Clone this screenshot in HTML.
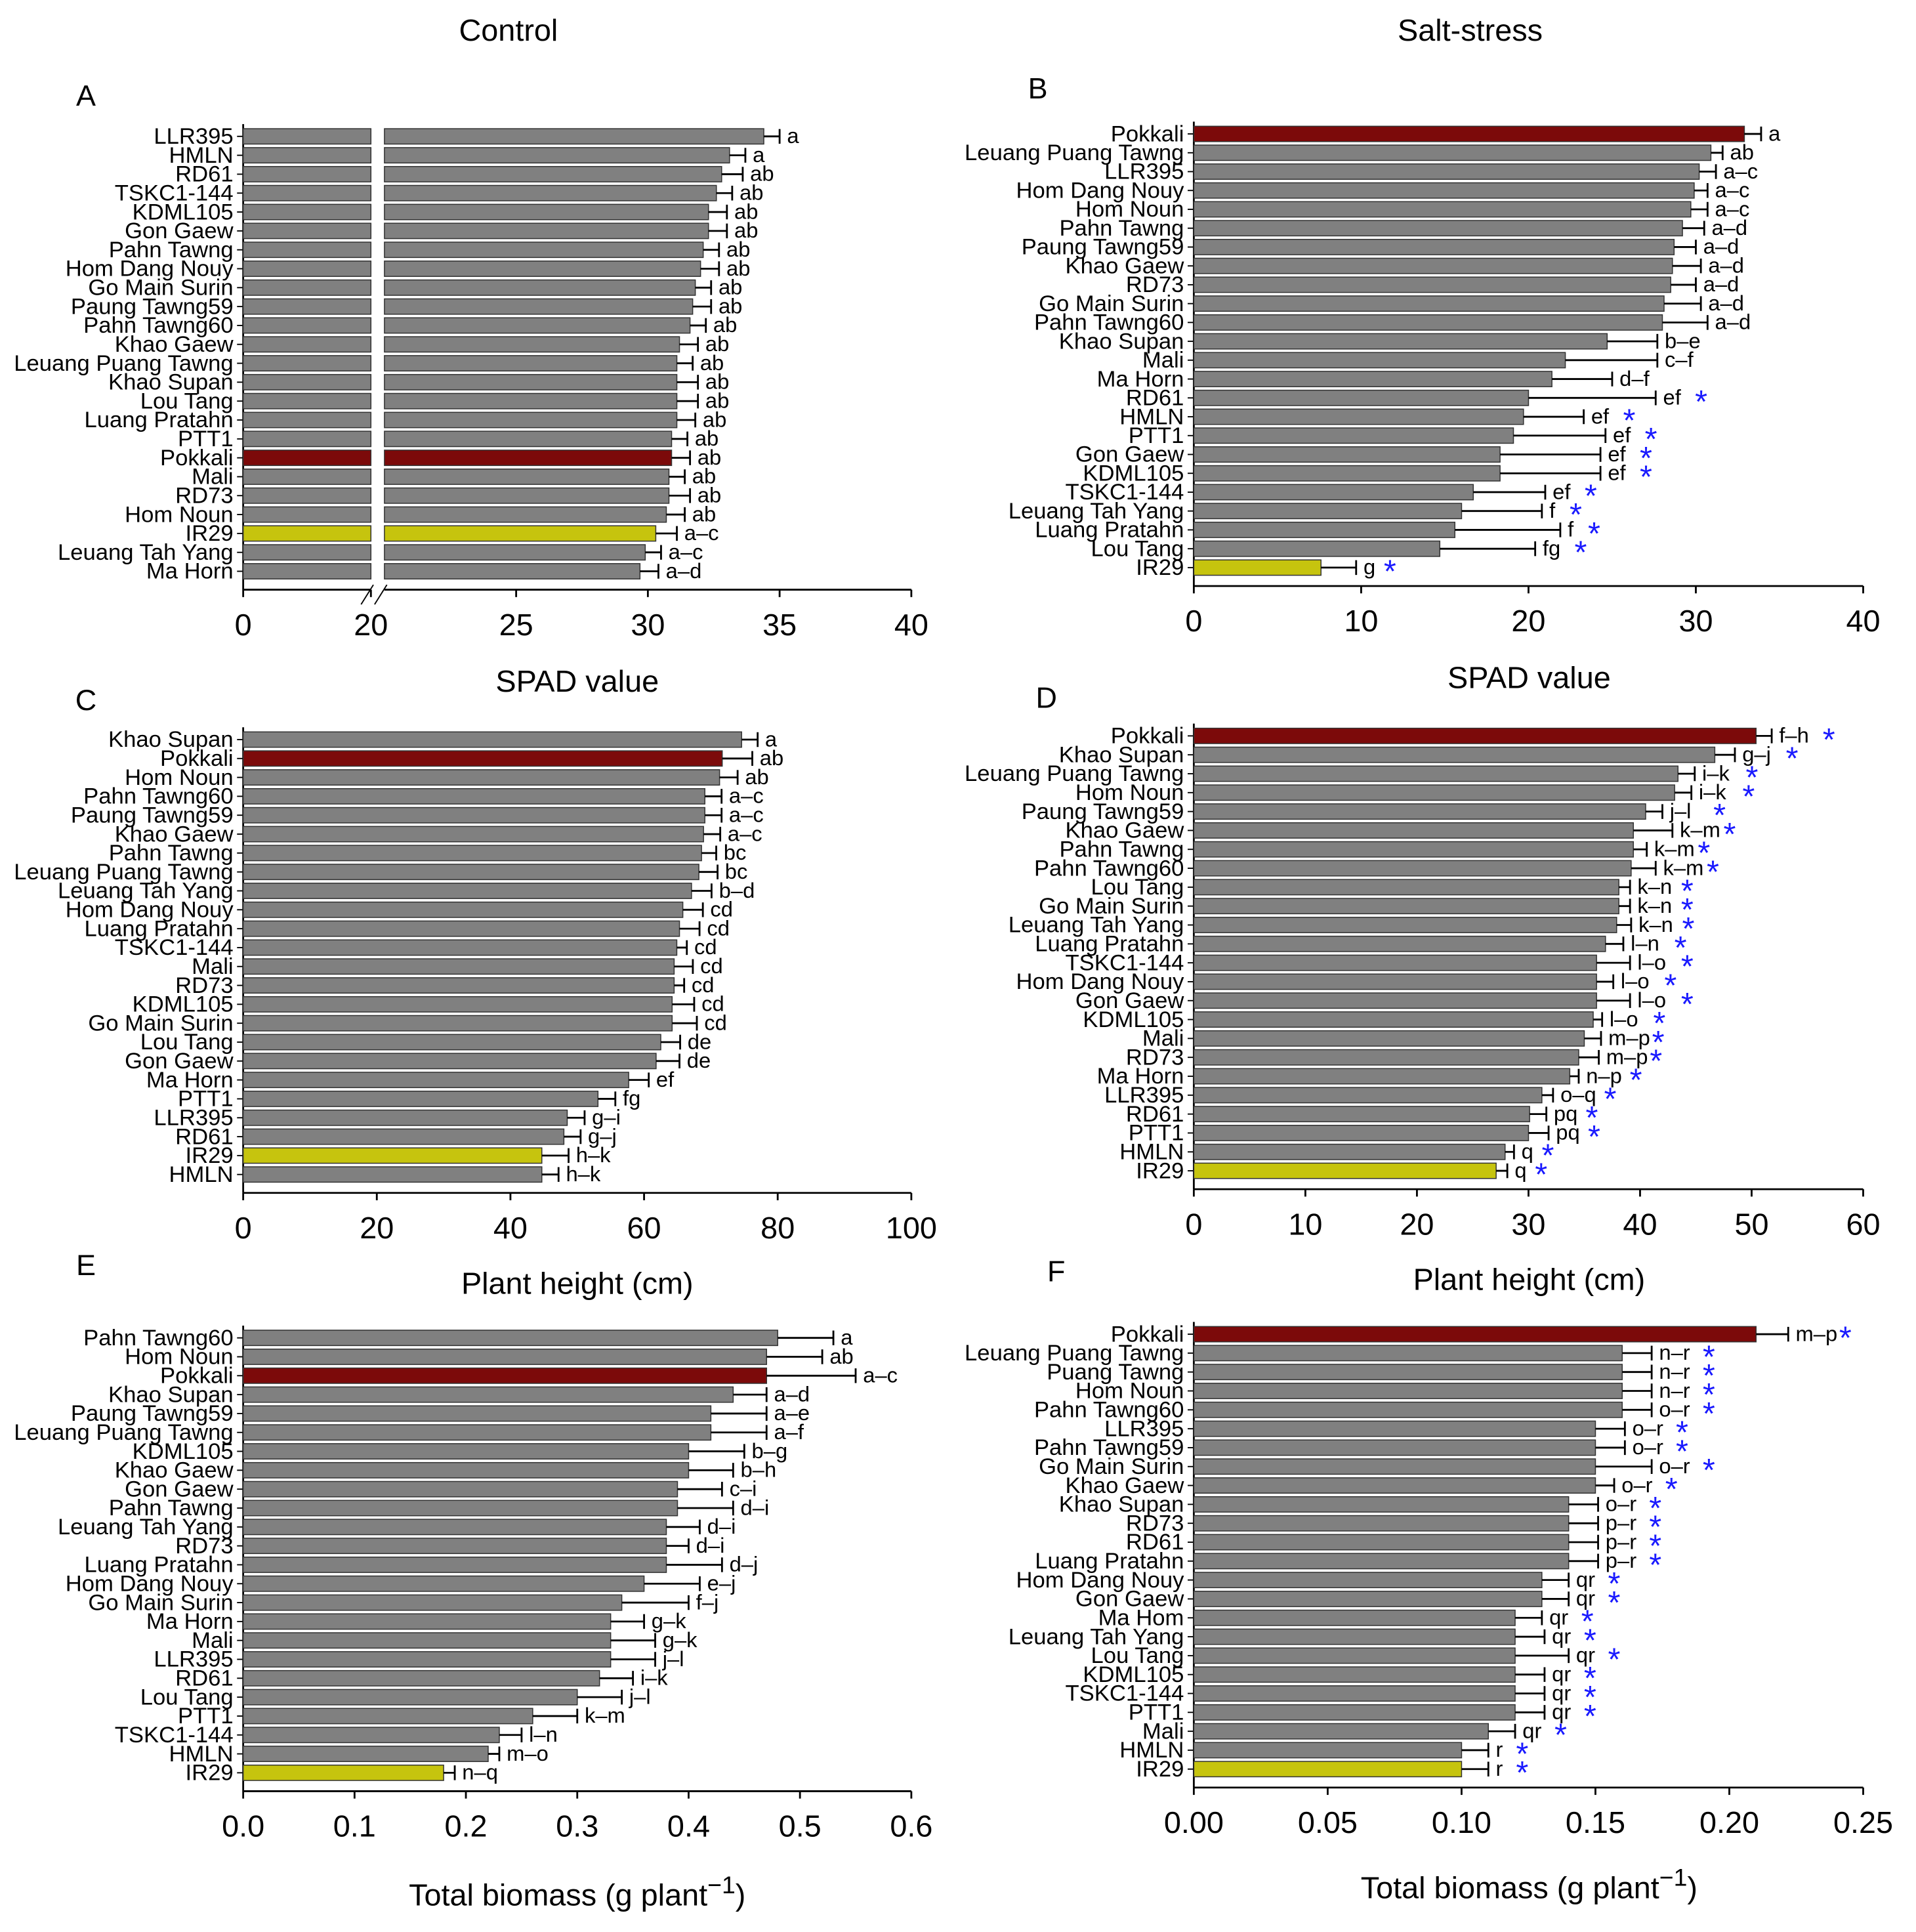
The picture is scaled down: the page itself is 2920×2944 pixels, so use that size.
<!DOCTYPE html>
<html><head><meta charset="utf-8"><style>
html,body{margin:0;padding:0;background:#fff}
svg{display:block}
text{font-family:"Liberation Sans",Arial,sans-serif;fill:#000}
</style></head><body>
<svg id="chart" width="2920" height="2944" viewBox="0 0 1560 1572.6" preserveAspectRatio="none" xmlns="http://www.w3.org/2000/svg">
<g id="root"></g>
</svg>
<script>
// ---- Panel A: Control SPAD ----
const aCats=["LLR395","HMLN","RD61","TSKC1-144","KDML105","Gon Gaew","Pahn Tawng","Hom Dang Nouy","Go Main Surin","Paung Tawng59","Pahn Tawng60","Khao Gaew","Leuang Puang Tawng","Khao Supan","Lou Tang","Luang Pratahn","PTT1","Pokkali","Mali","RD73","Hom Noun","IR29","Leuang Tah Yang","Ma Horn"];
const aVals=[34.4,33.1,32.8,32.6,32.3,32.3,32.1,32.0,31.8,31.7,31.6,31.2,31.1,31.1,31.1,31.1,30.9,30.9,30.8,30.8,30.7,30.3,29.9,29.7];
const aErr=[0.6,0.6,0.8,0.6,0.7,0.7,0.6,0.7,0.6,0.7,0.6,0.7,0.6,0.8,0.8,0.7,0.6,0.7,0.6,0.8,0.7,0.8,0.6,0.7];
const aLet=["a","a","ab","ab","ab","ab","ab","ab","ab","ab","ab","ab","ab","ab","ab","ab","ab","ab","ab","ab","ab","a–c","a–c","a–d"];
const aTicks=[0,20,25,30,35,40];
// ---- Panel B: Salt SPAD ----
const bCats=["Pokkali","Leuang Puang Tawng","LLR395","Hom Dang Nouy","Hom Noun","Pahn Tawng","Paung Tawng59","Khao Gaew","RD73","Go Main Surin","Pahn Tawng60","Khao Supan","Mali","Ma Horn","RD61","HMLN","PTT1","Gon Gaew","KDML105","TSKC1-144","Leuang Tah Yang","Luang Pratahn","Lou Tang","IR29"];
const bVals=[32.9,30.9,30.2,29.9,29.7,29.2,28.7,28.6,28.5,28.1,28.0,24.7,22.2,21.4,20.0,19.7,19.1,18.3,18.3,16.7,16.0,15.6,14.7,7.6];
const bErr=[1.0,0.7,1.0,0.8,1.0,1.3,1.3,1.7,1.5,2.2,2.7,3.0,5.5,3.6,7.6,3.6,5.5,6.0,6.0,4.3,4.8,6.3,5.7,2.1];
const bLet=["a","ab","a–c","a–c","a–c","a–d","a–d","a–d","a–d","a–d","a–d","b–e","c–f","d–f","ef","ef","ef","ef","ef","ef","f","f","fg","g"];
const bStar=[0,0,0,0,0,0,0,0,0,0,0,0,0,0,1,1,1,1,1,1,1,1,1,1];
const bTicks=[0,10,20,30,40];
// ---- Panel C: Control plant height ----
const cCats=["Khao Supan","Pokkali","Hom Noun","Pahn Tawng60","Paung Tawng59","Khao Gaew","Pahn Tawng","Leuang Puang Tawng","Leuang Tah Yang","Hom Dang Nouy","Luang Pratahn","TSKC1-144","Mali","RD73","KDML105","Go Main Surin","Lou Tang","Gon Gaew","Ma Horn","PTT1","LLR395","RD61","IR29","HMLN"];
const cVals=[74.6,71.7,71.3,69.1,69.1,68.9,68.6,68.2,67.1,65.8,65.3,64.9,64.5,64.5,64.2,64.2,62.5,61.8,57.7,53.1,48.5,48.0,44.7,44.7];
const cErr=[2.4,4.5,2.7,2.5,2.5,2.5,2.2,2.8,3.0,3.0,3.0,1.5,2.8,1.5,3.3,3.7,2.9,3.5,3.0,2.6,2.6,2.5,4.0,2.5];
const cLet=["a","ab","ab","a–c","a–c","a–c","bc","bc","b–d","cd","cd","cd","cd","cd","cd","cd","de","de","ef","fg","g–i","g–j","h–k","h–k"];
const cTicks=[0,20,40,60,80,100];
// ---- Panel D: Salt plant height ----
const dCats=["Pokkali","Khao Supan","Leuang Puang Tawng","Hom Noun","Paung Tawng59","Khao Gaew","Pahn Tawng","Pahn Tawng60","Lou Tang","Go Main Surin","Leuang Tah Yang","Luang Pratahn","TSKC1-144","Hom Dang Nouy","Gon Gaew","KDML105","Mali","RD73","Ma Horn","LLR395","RD61","PTT1","HMLN","IR29"];
const dVals=[50.4,46.7,43.4,43.1,40.5,39.4,39.4,39.2,38.1,38.1,37.9,36.9,36.1,36.1,36.1,35.8,35.0,34.5,33.7,31.2,30.1,30.0,27.9,27.1];
const dErr=[1.4,1.8,1.5,1.5,1.5,3.5,1.2,2.2,1.0,1.0,1.3,1.6,3.0,1.5,3.0,0.8,1.5,1.8,0.8,1.0,1.5,1.8,0.8,1.0];
const dLet=["f–h","g–j","i–k","i–k","j–l","k–m","k–m","k–m","k–n","k–n","k–n","l–n","l–o","l–o","l–o","l–o","m–p","m–p","n–p","o–q","pq","pq","q","q"];
const dStar=[1,1,1,1,1,1,1,1,1,1,1,1,1,1,1,1,1,1,1,1,1,1,1,1];
const dTicks=[0,10,20,30,40,50,60];
// ---- Panel E: Control biomass ----
const eCats=["Pahn Tawng60","Hom Noun","Pokkali","Khao Supan","Paung Tawng59","Leuang Puang Tawng","KDML105","Khao Gaew","Gon Gaew","Pahn Tawng","Leuang Tah Yang","RD73","Luang Pratahn","Hom Dang Nouy","Go Main Surin","Ma Horn","Mali","LLR395","RD61","Lou Tang","PTT1","TSKC1-144","HMLN","IR29"];
const eVals=[0.48,0.47,0.47,0.44,0.42,0.42,0.40,0.40,0.39,0.39,0.38,0.38,0.38,0.36,0.34,0.33,0.33,0.33,0.32,0.30,0.26,0.23,0.22,0.18];
const eErr=[0.05,0.05,0.08,0.03,0.05,0.05,0.05,0.04,0.04,0.05,0.03,0.02,0.05,0.05,0.06,0.03,0.04,0.04,0.03,0.04,0.04,0.02,0.01,0.01];
const eLet=["a","ab","a–c","a–d","a–e","a–f","b–g","b–h","c–i","d–i","d–i","d–i","d–j","e–j","f–j","g–k","g–k","j–l","i–k","j–l","k–m","l–n","m–o","n–q"];
const eTicks=[0,0.1,0.2,0.3,0.4,0.5,0.6];
// ---- Panel F: Salt biomass ----
const fCats=["Pokkali","Leuang Puang Tawng","Puang Tawng","Hom Noun","Pahn Tawng60","LLR395","Pahn Tawng59","Go Main Surin","Khao Gaew","Khao Supan","RD73","RD61","Luang Pratahn","Hom Dang Nouy","Gon Gaew","Ma Hom","Leuang Tah Yang","Lou Tang","KDML105","TSKC1-144","PTT1","Mali","HMLN","IR29"];
const fVals=[0.21,0.16,0.16,0.16,0.16,0.15,0.15,0.15,0.15,0.14,0.14,0.14,0.14,0.13,0.13,0.12,0.12,0.12,0.12,0.12,0.12,0.11,0.10,0.10];
const fErr=[0.012,0.011,0.011,0.011,0.011,0.011,0.011,0.021,0.007,0.011,0.011,0.011,0.011,0.010,0.010,0.010,0.011,0.020,0.011,0.011,0.011,0.010,0.010,0.010];
const fLet=["m–p","n–r","n–r","n–r","o–r","o–r","o–r","o–r","o–r","o–r","p–r","p–r","p–r","qr","qr","qr","qr","qr","qr","qr","qr","qr","r","r"];
const fStar=[1,1,1,1,1,1,1,1,1,1,1,1,1,1,1,1,1,1,1,1,1,1,1,1];
const fTicks=[0,0.05,0.1,0.15,0.2,0.25];

const NS="http://www.w3.org/2000/svg";
const root=document.getElementById('root');
function mk(tag,attrs,parent){const e=document.createElementNS(NS,tag);for(const k in attrs)e.setAttribute(k,attrs[k]);(parent||root).appendChild(e);return e;}
function txt(s,x,y,size,anchor,parent){const t=mk('text',{x:x,y:y,'font-size':size,'text-anchor':anchor||'start'},parent);t.textContent=s;return t;}
function barColor(name){return name==="Pokkali"?"#7c0a0a":(name==="IR29"?"#c6c40e":"#808080");}

function panel(cfg,cats,vals,errs,lets,stars,ticks,fmt){
  const g=mk('g',{});
  
  
  const n=cats.length;
  const step=(cfg.yLast-cfg.yFirst)/(n-1);
  const rowY=i=>cfg.yFirst+i*step;
  const xs=v=>cfg.broken? (v<=cfg.bStart? cfg.x0+(v/cfg.bStart)*(cfg.bLeftEnd-cfg.x0) : cfg.bRightStart+(v-cfg.bStart)*(cfg.x1-cfg.bRightStart)/(cfg.max-cfg.bStart)) : cfg.x0+(v-cfg.min)*(cfg.x1-cfg.x0)/(cfg.max-cfg.min);
  const base=cfg.yLast+15;
  const top=cfg.yFirst-10;
  const ya=mk('line',{x1:cfg.x0,y1:top,x2:cfg.x0,y2:base,stroke:'#000','stroke-width':1.5},g);
  
  
  if(cfg.broken){
    mk('line',{x1:cfg.x0,y1:base,x2:cfg.bLeftEnd,y2:base,stroke:'#000','stroke-width':1.5},g);
    mk('line',{x1:cfg.bRightStart,y1:base,x2:cfg.x1,y2:base,stroke:'#000','stroke-width':1.5},g);
    mk('line',{x1:cfg.bLeftEnd-8,y1:base+12,x2:cfg.bLeftEnd+2,y2:base-4,stroke:'#000','stroke-width':1},g);
    mk('line',{x1:cfg.bRightStart-8,y1:base+12,x2:cfg.bRightStart+2,y2:base-4,stroke:'#000','stroke-width':1},g);
  } else {
    const xa=mk('line',{x1:cfg.x0,y1:base,x2:cfg.x1,y2:base,stroke:'#000','stroke-width':1.5},g);
    
    
  }
  ticks.forEach(t=>{
    const x=xs(t);
    mk('line',{x1:x,y1:base,x2:x,y2:base+6,stroke:'#000','stroke-width':1.5},g);
    const tl=txt(fmt(t),x,base+37,25,'middle',g);
    
    
  });
  for(let i=0;i<n;i++){
    const y=rowY(i);
    mk('line',{x1:cfg.x0-5,y1:y,x2:cfg.x0,y2:y,stroke:'#000','stroke-width':1},g);
    const lab=txt(cats[i],cfg.x0-8,y+6,18.5,'end',g);
    
    
    const col=barColor(cats[i]);
    const bh=12.5;
    if(cfg.broken){
      const r1=mk('rect',{x:cfg.x0,y:y-bh/2,width:cfg.bLeftEnd-cfg.x0,height:bh,fill:col,stroke:'#333','stroke-width':0.8},g);
      
      
      const r2=mk('rect',{x:cfg.bRightStart,y:y-bh/2,width:xs(vals[i])-cfg.bRightStart,height:bh,fill:col,stroke:'#333','stroke-width':0.8},g);
      
      
    } else {
      const r=mk('rect',{x:cfg.x0,y:y-bh/2,width:xs(vals[i])-cfg.x0,height:bh,fill:col,stroke:'#333','stroke-width':0.8},g);
      
      
    }
    const xe=xs(vals[i]+errs[i]);
    const eb=mk('path',{d:`M${xs(vals[i])},${y} H${xe} M${xe},${y-6} V${y+6}`,stroke:'#000','stroke-width':1.5,fill:'none'},g);
    
    
    const lt=txt(lets[i],xe+6,y+5.5,17.5,'start',g);
    
    
    if(stars&&stars[i]){
      const w=lets[i].length*9.5;
      const st=mk('text',{x:xe+6+w+7,y:y+12,'font-size':26,fill:'#1a1aff'},g);
      st.style.fill='#1a1aff';
      st.textContent='*';
      
      
    }
  }
}
const f0=v=>String(v);
const f1=v=>v.toFixed(1);
const f2=v=>v.toFixed(2);
panel({name:'panel-a',x0:198,x1:742,min:0,max:40,broken:true,bStart:20,bLeftEnd:302,bRightStart:313,yFirst:111,yLast:465},aCats,aVals,aErr,aLet,null,aTicks,f0);
panel({name:'panel-b',x0:972,x1:1517,min:0,max:40,yFirst:109,yLast:462},bCats,bVals,bErr,bLet,bStar,bTicks,f0);
panel({name:'panel-c',x0:198,x1:742,min:0,max:100,yFirst:602,yLast:956},cCats,cVals,cErr,cLet,null,cTicks,f0);
panel({name:'panel-d',x0:972,x1:1517,min:0,max:60,yFirst:599,yLast:953},dCats,dVals,dErr,dLet,dStar,dTicks,f0);
panel({name:'panel-e',x0:198,x1:742,min:0,max:0.6,yFirst:1089,yLast:1443},eCats,eVals,eErr,eLet,null,eTicks,f1);
panel({name:'panel-f',x0:972,x1:1517,min:0,max:0.25,yFirst:1086,yLast:1440},fCats,fVals,fErr,fLet,fStar,fTicks,f2);

function label(s,x,y,size,name,anchor){const t=txt(s,x,y,size,anchor||'middle');return t;}
label('Control',414,33,25,'title-control');
label('Salt-stress',1197,33,25,'title-salt-stress');
label('A',70,86,24,'panel-letter-a');
label('B',845,80,24,'panel-letter-b');
label('C',70,578,24,'panel-letter-c');
label('D',852,576,24,'panel-letter-d');
label('E',70,1038,24,'panel-letter-e');
label('F',860,1043,24,'panel-letter-f');
label('SPAD value',470,563,25,'x-axis-title-a');
label('SPAD value',1245,560,25,'x-axis-title-b');
label('Plant height (cm)',470,1053,25,'x-axis-title-c');
label('Plant height (cm)',1245,1050,25,'x-axis-title-d');
function bioTitle(x,y,name){
  const t=mk('text',{x:x,y:y,'font-size':25,'text-anchor':'middle'});
  
  
  t.appendChild(document.createTextNode('Total biomass (g plant'));
  const s=document.createElementNS(NS,'tspan');s.setAttribute('dy','-10');s.setAttribute('font-size','20');s.textContent='−1';t.appendChild(s);
  const s2=document.createElementNS(NS,'tspan');s2.setAttribute('dy','10');s2.textContent=')';t.appendChild(s2);
}
bioTitle(470,1551,'x-axis-title-e');
bioTitle(1245,1545,'x-axis-title-f');
</script>
</body></html>
